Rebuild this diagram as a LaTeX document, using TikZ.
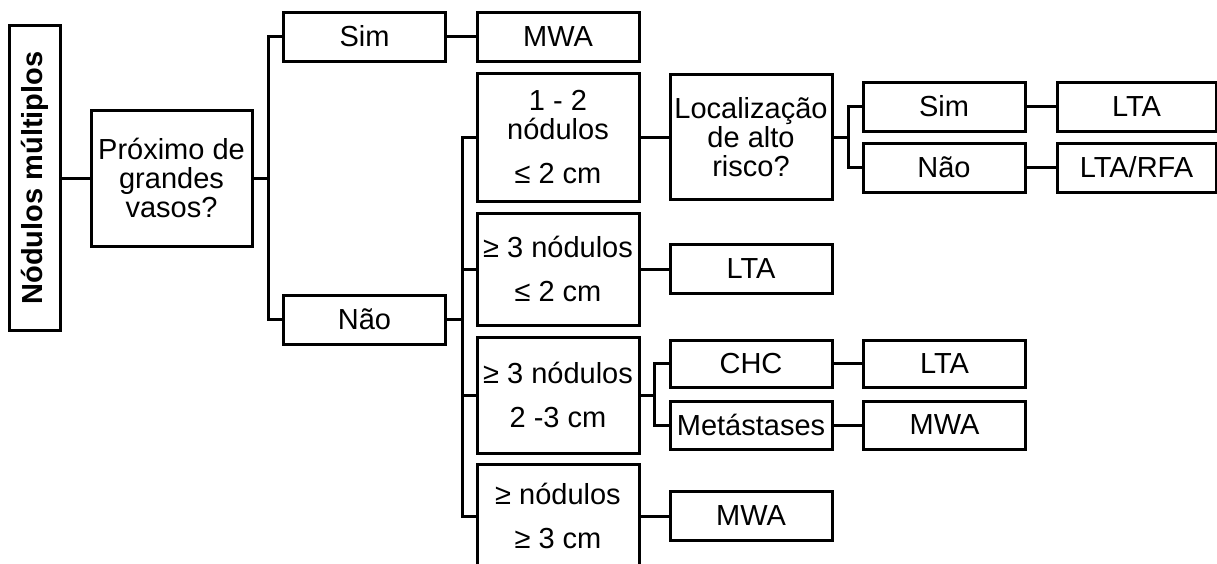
\documentclass[tikz,border=0pt]{standalone}
\usepackage{fontspec}
\setmainfont{Liberation Sans}
\begin{document}
\begin{tikzpicture}[x=1pt,y=-1pt,
  box/.style={draw, line width=3pt, inner sep=0pt, align=center,
    font=\fontsize{29}{29}\selectfont},
  wide/.style={minimum width=162pt},
  line/.style={line width=3pt}]
\useasboundingbox (0,0) rectangle (1217,563);
% nodes
\node[box, rotate=90, minimum width=305pt, minimum height=51pt,
  font=\fontsize{29}{29}\selectfont\bfseries] (nm) at (34.5,178) {Nódulos múltiplos};
\node[box, minimum width=161pt, minimum height=136pt] (px) at (171.5,178) {Próximo de\\grandes\\vasos?};
\node[box, wide, minimum height=49pt] (sim1) at (364.5,36.5) {Sim};
\node[box, wide, minimum height=49pt] (mwa1) at (558,36.5) {MWA};
\node[box, wide, minimum height=49pt] (nao1) at (364.5,319.5) {Não};
\node[box, wide, minimum height=128pt] (n12) at (558,137) {1 - 2\\nódulos\\[15pt]≤ 2 cm};
\node[box, wide, minimum height=112pt] (n3a) at (558,269) {≥ 3 nódulos\\[15pt]≤ 2 cm};
\node[box, wide, minimum height=116pt] (n3b) at (558,395) {≥ 3 nódulos\\[15pt]2 -3 cm};
\node[box, wide, minimum height=104pt] (n3c) at (558,516) {≥ nódulos\\[15pt]≥ 3 cm};
\node[box, wide, minimum height=125pt] (loc) at (751,137) {Localização\\de alto\\risco?};
\node[box, wide, minimum height=49pt] (sim2) at (944,106.5) {Sim};
\node[box, wide, minimum height=49pt] (nao2) at (944,167.5) {Não};
\node[box, minimum width=159pt, minimum height=49pt] (lta1) at (1136.5,106.5) {LTA};
\node[box, minimum width=159pt, minimum height=49pt] (ltarfa) at (1136.5,167.5) {LTA/RFA};
\node[box, wide, minimum height=49pt] (lta2) at (751,269) {LTA};
\node[box, wide, minimum height=47pt] (chc) at (751,363.5) {CHC};
\node[box, wide, minimum height=48pt] (met) at (751,425) {Metástases};
\node[box, wide, minimum height=47pt] (lta3) at (944.5,363.5) {LTA};
\node[box, wide, minimum height=48pt] (mwa2) at (944.5,425) {MWA};
\node[box, wide, minimum height=49pt] (mwa3) at (751,516) {MWA};
% branch points
\coordinate (b1) at (268,178);
\coordinate (b2) at (462,319.5);
\coordinate (b3) at (848,137);
\coordinate (b4) at (654,395);
% connectors
\draw[line] (nm) -- (px);
\draw[line] (px) -- (b1);
\draw[line] (sim1.west) -| (b1) |- (nao1.west);
\draw[line] (sim1) -- (mwa1);
\draw[line] (nao1) -- (b2);
\draw[line] (n12.west) -| (b2) |- (n3c.west);
\draw[line] (n3a.west) -- (n3a.west -| b2);
\draw[line] (n3b.west) -- (n3b.west -| b2);
\draw[line] (n12) -- (loc);
\draw[line] (loc) -- (b3);
\draw[line] (sim2.west) -| (b3) |- (nao2.west);
\draw[line] (sim2) -- (lta1);
\draw[line] (nao2) -- (ltarfa);
\draw[line] (n3a) -- (lta2);
\draw[line] (n3b) -- (b4);
\draw[line] (chc.west) -| (b4) |- (met.west);
\draw[line] (chc) -- (lta3);
\draw[line] (met) -- (mwa2);
\draw[line] (n3c) -- (mwa3);
\end{tikzpicture}
\end{document}
